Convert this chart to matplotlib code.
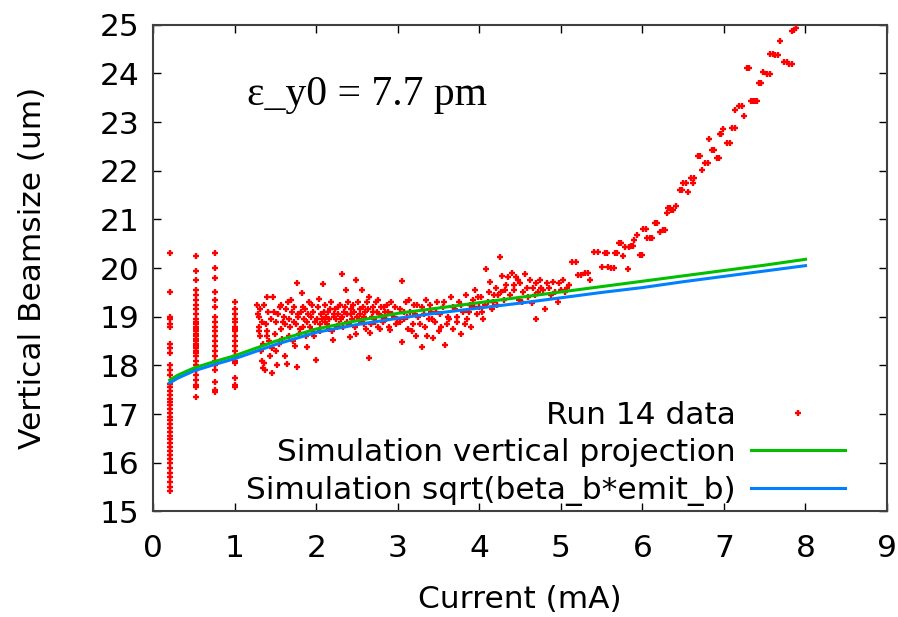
import matplotlib
matplotlib.use("Agg")
import matplotlib.pyplot as plt

# ---------------- data ----------------
# Run 14 data: columns at low current
col_x = [0.20, 0.52, 0.75, 1.00]
col1_y = [20.3, 19.5, 19.0, 18.95, 18.85, 18.8, 18.45, 18.35, 18.25, 18.0, 17.9, 17.8,
          17.62, 17.55, 17.48, 17.4, 17.32, 17.25, 17.18, 17.1, 17.02, 16.95, 16.88,
          16.8, 16.72, 16.64, 16.55, 16.48, 16.4, 16.32, 16.24, 16.16, 16.08, 16.0,
          15.9, 15.8, 15.7, 15.6, 15.5, 15.42]
col2_y = [20.25, 19.95, 19.75, 19.55, 19.45, 19.35, 19.25, 19.15, 19.05, 18.95, 18.9,
          18.85, 18.8, 18.75, 18.7, 18.65, 18.6, 18.55, 18.5, 18.45, 18.4, 18.35, 18.3,
          18.25, 18.2, 18.1, 18.0, 17.9, 17.8, 17.7, 17.6, 17.55, 17.35]
col3_y = [20.3, 20.0, 19.8, 19.5, 19.35, 19.2, 19.0, 18.9, 18.8, 18.7, 18.6, 18.5,
          18.4, 18.3, 18.2, 18.1, 18.0, 17.9, 17.65, 17.5, 17.45]
col4_y = [19.3, 19.15, 19.05, 18.95, 18.9, 18.8, 18.75, 18.7, 18.6, 18.5, 18.4, 18.3,
          18.2, 18.1, 18.05, 17.75, 17.6, 17.55]

# Run 14 data: scattered band and high-current rise
scat_x = [1.27, 1.30, 1.30, 1.31, 1.32, 1.33, 1.35, 1.36, 1.38, 1.39, 1.40, 1.42, 1.43,
          1.45, 1.47, 1.48, 1.50, 1.51, 1.52, 1.55, 1.56, 1.58, 1.60, 1.62, 1.64, 1.65,
          1.67, 1.70, 1.72, 1.74, 1.76, 1.76, 1.78, 1.80, 1.82, 1.83, 1.85, 1.88, 1.90,
          1.92, 1.95, 1.97, 2.00, 2.01, 2.03, 2.05, 2.08, 2.09,
          2.10, 2.12, 2.15, 2.17, 2.20, 2.22, 2.24, 2.26, 2.28, 2.31, 2.32, 2.34, 2.36,
          2.38, 2.41, 2.43, 2.45, 2.47, 2.49, 2.50, 2.52, 2.54, 2.56, 2.58, 2.60, 2.62,
          2.64, 2.66, 2.68, 2.70, 2.72, 2.74, 2.76, 2.78, 2.80, 2.83, 2.85, 2.88, 2.90,
          2.92, 2.95, 2.98,
          3.02, 3.05, 3.05, 3.08, 3.10, 3.12, 3.15, 3.18, 3.20, 3.22, 3.25, 3.29, 3.30,
          3.33, 3.35, 3.38, 3.40, 3.43, 3.45, 3.48, 3.50, 3.52, 3.55, 3.58, 3.60, 3.62,
          3.65, 3.68, 3.70, 3.73, 3.75, 3.78, 3.80, 3.83, 3.85, 3.88, 3.90, 3.92, 3.95,
          3.97, 4.00,
          4.02, 4.05, 4.08, 4.10, 4.13, 4.15, 4.18, 4.20, 4.22, 4.25, 4.27, 4.28, 4.30,
          4.33, 4.35, 4.38, 4.40, 4.43, 4.45, 4.48, 4.50, 4.53, 4.56, 4.58, 4.60, 4.64,
          4.66, 4.69, 4.70, 4.72, 4.74, 4.78, 4.80, 4.85, 4.90, 4.93, 4.96, 5.00, 5.03,
          5.07, 5.10,
          5.14, 5.21, 5.29, 5.36, 5.41, 5.50, 5.54, 5.58, 5.61, 5.66, 5.71, 5.76, 5.79,
          5.82, 5.86, 5.90, 5.93, 5.97, 6.01, 6.05, 6.09, 6.15, 6.22, 6.25, 6.30, 6.31,
          6.35, 6.41, 6.46, 6.50, 6.56, 6.59, 6.62, 6.68, 6.73, 6.77, 6.82, 6.85, 6.91,
          6.95, 6.99, 7.04, 7.10, 7.14, 7.19, 7.25, 7.28, 7.33, 7.38, 7.43, 7.48, 7.53,
          7.57, 7.63, 7.69, 7.74, 7.80, 7.84, 7.88]
scat_y = [19.25, 19.0, 18.8, 18.6, 18.3, 18.1, 17.95, 19.24, 18.85, 19.41, 18.7, 18.5, 18.2,
          17.85, 19.41, 19.1, 18.9, 18.3, 18.0, 19.2, 18.75, 18.55, 19.0, 18.85, 18.04, 19.3,
          18.6, 19.1, 18.9, 18.4, 19.70, 17.97, 19.0, 18.75, 19.48, 19.2, 18.95, 18.38, 19.05,
          18.8, 19.25, 18.6, 18.11, 18.95, 19.36, 18.85, 19.68, 19.1,
          18.9, 19.0, 18.75, 19.15, 18.52, 19.05, 18.95, 19.2, 18.85, 19.87, 19.0, 19.1, 19.55,
          18.9, 18.59, 19.05, 19.25, 18.8, 19.75, 19.0, 18.95, 19.15, 19.55, 18.85, 19.1, 19.3,
          18.16, 18.66, 19.0, 19.2, 18.9, 19.1, 19.35, 18.75, 19.0, 19.2, 18.95, 19.1, 18.72,
          19.3, 19.0, 18.85,
          19.15, 19.73, 18.49, 18.95, 19.3, 18.75, 19.1, 18.85, 19.25, 18.6, 19.0, 18.38, 19.2,
          18.8, 19.35, 18.95, 19.1, 18.56, 18.9, 19.3, 18.7, 19.05, 19.2, 18.42, 18.85, 19.0,
          19.4, 18.75, 19.15, 18.9, 19.3, 18.65, 19.1, 19.45, 18.95, 19.25, 18.8, 19.35, 19.55,
          19.05, 19.2,
          19.4, 18.95, 19.98, 19.3, 19.71, 19.15, 19.45, 19.6, 19.25, 20.22, 19.5, 19.83, 19.35,
          19.65, 19.82, 19.45, 19.9, 19.55, 19.82, 19.35, 19.7, 19.5, 19.88, 19.6, 19.4, 19.28,
          19.6, 18.95, 19.69, 19.5, 19.75, 19.55, 19.16, 19.6, 19.72, 19.5, 19.31, 19.55, 19.75,
          19.6, 19.65,
          20.13, 19.85, 19.9, 19.75, 20.33, 20.02, 20.3, 20.02, 20.0, 20.3, 20.52, 20.24, 20.44,
          19.98, 20.45, 20.57, 20.67, 20.26, 20.81, 20.61, 20.61, 20.92, 20.74, 20.78, 21.13, 21.23,
          21.2, 21.27, 21.6, 21.75, 21.57, 21.85, 21.75, 22.30, 22.02, 22.15, 22.66, 22.42, 22.27,
          22.75, 22.85, 22.57, 22.87, 23.24, 23.33, 23.12, 24.11, 23.43, 23.43, 23.80, 24.03, 23.98,
          24.39, 24.37, 24.66, 24.23, 24.20, 24.87, 24.94]

# Run 14 data: further points filling the dense band and the paired high-current points
more_x = [1.28, 1.29, 1.31, 1.33, 1.34, 1.36, 1.37, 1.39, 1.41, 1.44, 1.46, 1.49, 1.53,
          1.54, 1.57, 1.59, 1.61, 1.63, 1.66, 1.68, 1.69, 1.71, 1.73, 1.75, 1.77, 1.79,
          1.81, 1.84, 1.86, 1.87, 1.89, 1.91, 1.93, 1.94, 1.96, 1.98,
          2.02, 2.04, 2.06, 2.07, 2.11, 2.13, 2.14, 2.16, 2.18, 2.19, 2.21, 2.23, 2.25,
          2.27, 2.29, 2.30, 2.33, 2.35, 2.37, 2.39, 2.40, 2.42, 2.44, 2.46, 2.48, 2.51,
          2.53, 2.55, 2.57, 2.59, 2.61, 2.63, 2.65, 2.67, 2.69, 2.71, 2.73, 2.75, 2.77,
          2.79, 2.82, 2.84, 2.87, 2.89, 2.93, 2.96, 2.99,
          3.03, 3.07, 3.11, 3.14, 3.17, 3.21, 3.24, 3.27, 3.32, 3.36, 3.39, 3.42, 3.47,
          3.53, 3.57, 3.63, 3.67, 3.72, 3.77, 3.82, 3.87, 3.93, 3.98, 4.03, 4.07, 4.12,
          4.17, 4.23, 4.32, 4.42, 4.47, 4.52, 4.62, 4.68, 4.76, 4.83, 4.88, 4.98, 5.05,
          5.18, 5.25, 5.33, 5.45, 5.57, 5.65, 5.69, 5.74, 5.83, 5.89, 6.00, 6.04, 6.12,
          6.18, 6.28, 6.34, 6.38, 6.49, 6.53, 6.63, 6.71, 6.80, 6.88, 6.94, 6.97, 7.07,
          7.13, 7.22, 7.31, 7.36, 7.41, 7.46, 7.56, 7.60, 7.66, 7.77, 7.83, 7.86]
more_y = [19.05, 18.7, 19.15, 18.9, 18.45, 18.05, 17.9, 18.6, 19.1, 18.95, 18.35, 18.65, 19.05,
          18.45, 19.25, 18.9, 18.2, 19.15, 18.95, 18.8, 19.35, 18.5, 19.2, 18.85, 19.05, 18.65,
          19.1, 18.8, 19.15, 18.6, 18.9, 19.3, 19.0, 18.7, 19.1, 18.9,
          19.2, 18.7, 19.05, 18.95, 19.25, 18.85, 19.1, 18.95, 19.3, 18.7, 19.0, 19.15, 18.8,
          19.05, 19.25, 18.95, 18.8, 19.2, 19.05, 19.3, 18.85, 19.15, 18.95, 19.1, 18.65, 19.3,
          19.05, 18.9, 19.2, 19.0, 18.75, 19.15, 19.4, 18.85, 19.1, 18.95, 19.3, 18.8, 19.05,
          19.2, 18.9, 19.1, 19.25, 18.8, 19.05, 19.2, 18.95,
          18.9, 19.1, 19.0, 19.35, 18.7, 19.05, 19.25, 18.85, 19.05, 18.6, 19.25, 18.95, 19.1,
          18.8, 19.3, 18.95, 19.2, 19.0, 19.25, 18.85, 19.1, 19.2, 19.4, 19.1, 19.25, 19.5,
          19.3, 19.45, 19.55, 19.65, 19.75, 19.3, 19.75, 19.45, 19.6, 19.7, 19.45, 19.7, 19.5,
          20.13, 19.85, 19.9, 20.33, 20.3, 20.0, 20.3, 20.52, 20.44, 20.45, 20.26, 20.81, 20.61,
          20.92, 20.78, 21.23, 21.2, 21.6, 21.75, 21.85, 22.30, 22.15, 22.42, 22.27, 22.75, 22.57,
          22.87, 23.33, 24.11, 23.43, 23.43, 23.80, 23.98, 24.39, 24.37, 24.23, 24.20, 24.90]

# Simulation curves
sim_x = [0.2, 0.3, 0.5, 0.75, 1.0, 1.5, 2.0, 2.5, 3.0, 3.5, 4.0, 4.5, 5.0, 5.5, 6.0,
         6.5, 7.0, 7.5, 8.0]
sim_proj = [17.70, 17.80, 17.95, 18.08, 18.20, 18.50, 18.75, 18.92, 19.07, 19.18, 19.29,
            19.40, 19.51, 19.62, 19.73, 19.84, 19.95, 20.06, 20.18]
sim_sqrt = [17.64, 17.74, 17.89, 18.02, 18.14, 18.43, 18.68, 18.84, 18.97, 19.08, 19.18,
            19.28, 19.39, 19.50, 19.60, 19.72, 19.83, 19.94, 20.05]

labels = ["Run 14 data", "Simulation vertical projection", "Simulation sqrt(beta_b*emit_b)"]
x_ticks = list(range(0, 10))
y_ticks = list(range(15, 26))

# ---------------- plot ----------------
plt.rcParams['font.family'] = ['DejaVu Sans']
fig = plt.figure(figsize=(8.98, 6.17), dpi=100)
ax = fig.add_axes([0.1708, 0.171, 0.8169, 0.789])

data_x = []
data_y = []
for cx, cy in zip(col_x, [col1_y, col2_y, col3_y, col4_y]):
    data_x += [cx] * len(cy)
    data_y += cy
data_x += scat_x + more_x
data_y += scat_y + more_y

ax.plot(data_x, data_y, linestyle='none', marker='+', color='#ff0000',
        markersize=4.5, markeredgewidth=1.7, label=labels[0], zorder=3)
ax.plot(sim_x, sim_proj, color='#00c000', linewidth=2.2, label=labels[1], zorder=4)
ax.plot(sim_x, sim_sqrt, color='#0080ff', linewidth=2.2, label=labels[2], zorder=4)

ax.set_xlim(0, 9)
ax.set_ylim(15, 25)
ax.set_xticks(x_ticks)
ax.set_yticks(y_ticks)
ax.tick_params(axis='both', direction='in', length=6, width=1, top=True, right=True,
               labelsize=22.5, colors='#000000')
ax.tick_params(axis='x', pad=16)
ax.tick_params(axis='y', pad=10)
for s in ax.spines.values():
    s.set_linewidth(1.5)
    s.set_color('#404040')

ax.set_xlabel("Current (mA)", fontsize=22.5, labelpad=16)
ax.set_ylabel("Vertical Beamsize (um)", fontsize=22.5, labelpad=38)

ax.text(0.127, 0.835, "ε_y0 = 7.7 pm", transform=ax.transAxes, fontsize=30,
        family=['Liberation Serif', 'DejaVu Serif'], va='baseline', ha='left')

leg = ax.legend(loc='lower right', bbox_to_anchor=(0.943, 0.012), frameon=False,
                markerfirst=False, fontsize=22.5, handlelength=3.0, handletextpad=0.5,
                labelspacing=0.27, borderpad=0, borderaxespad=0, numpoints=1)

fig.savefig("out.png", dpi=100)
